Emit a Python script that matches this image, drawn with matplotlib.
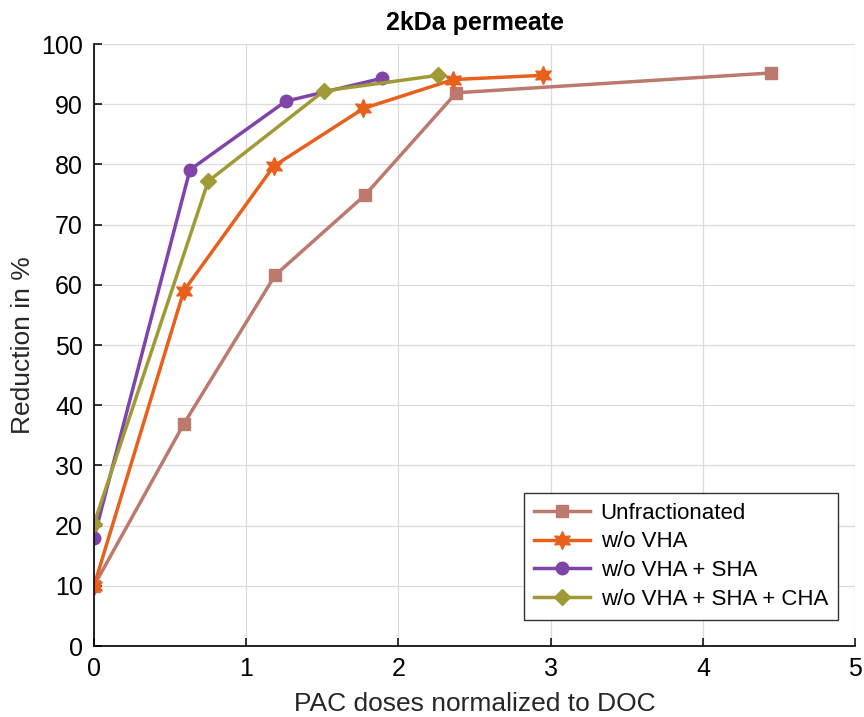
import matplotlib
matplotlib.use('Agg')
import matplotlib.pyplot as plt

plt.rcParams['font.family'] = ['Liberation Sans', 'DejaVu Sans']

# PAC dose (normalized to DOC) and reduction in % for each fraction
dose_unfrac = [0, 0.59, 1.19, 1.78, 2.38, 4.45]
red_unfrac = [10, 36.9, 61.6, 74.9, 91.9, 95.2]

dose_vha = [0, 0.59, 1.18, 1.77, 2.36, 2.95]
red_vha = [10, 59.0, 79.7, 89.3, 94.1, 94.8]

dose_vha_sha = [0, 0.63, 1.26, 1.89]
red_vha_sha = [18, 79.1, 90.5, 94.3]

dose_vha_sha_cha = [0, 0.75, 1.51, 2.26]
red_vha_sha_cha = [20.3, 77.2, 92.2, 94.8]

labels = ['Unfractionated', 'w/o VHA', 'w/o VHA + SHA', 'w/o VHA + SHA + CHA']

hexagram = (6, 1, 0)  # six-pointed star

fig = plt.figure(figsize=(8.64, 7.17), dpi=100)
ax = fig.add_axes([0.1088, 0.099, 0.881, 0.8396])

ax.plot(dose_unfrac, red_unfrac, '-s', color='#BC7A6E', lw=2.5, ms=8, label=labels[0])
ax.plot(dose_vha, red_vha, '-', marker=hexagram, color='#E8601C', lw=2.5, ms=13, label=labels[1])
ax.plot(dose_vha_sha, red_vha_sha, '-o', color='#8044A8', lw=2.5, ms=9, label=labels[2])
ax.plot(dose_vha_sha_cha, red_vha_sha_cha, '-D', color='#A09A36', lw=2.5, ms=8, label=labels[3])

ax.set_xlim(0, 5)
ax.set_ylim(0, 100)
ax.set_xticks(range(0, 6))
ax.set_yticks(range(0, 101, 10))
ax.grid(True, color='#dcdcdc', lw=0.9)
ax.set_axisbelow(True)
for s in ['top', 'right']:
    ax.spines[s].set_visible(False)
ax.spines['left'].set_linewidth(1.2)
ax.spines['bottom'].set_linewidth(1.2)
ax.tick_params(direction='in', labelsize=18, length=6, width=1.1, pad=8)

ax.set_xlabel('PAC doses normalized to DOC', fontsize=19, labelpad=8, color='#262626')
ax.set_ylabel('Reduction in %', fontsize=19, labelpad=4, color='#262626')
ax.set_title('2kDa permeate', fontsize=18, fontweight='bold', pad=10)

leg = ax.legend(loc='lower right', fontsize=16, fancybox=False, framealpha=1,
                edgecolor='#333333', handlelength=2.5, handletextpad=0.5,
                borderpad=0.45, labelspacing=0.35, bbox_to_anchor=(0.992, 0.025))
leg.get_frame().set_linewidth(1.0)

fig.savefig('out.png', dpi=100)
